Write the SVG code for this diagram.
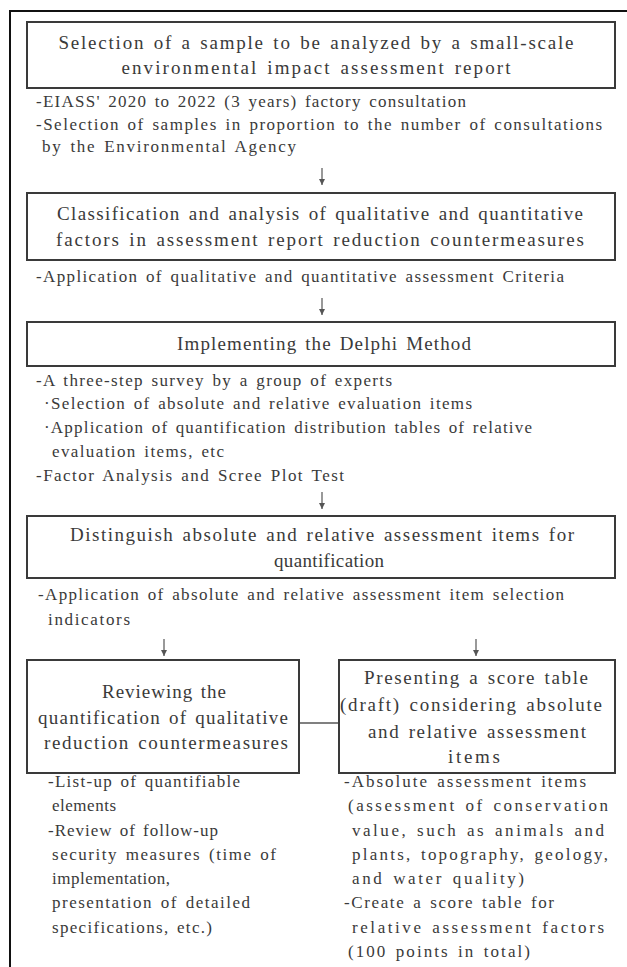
<svg xmlns="http://www.w3.org/2000/svg" width="627" height="967" viewBox="0 0 627 967">
  <style>
    .box { fill: #ffffff; stroke: #3a3a3a; stroke-width: 2; }
    .title { font-family: "Liberation Serif", "DejaVu Serif", serif; font-size: 19px; fill: #3a3a3a; text-anchor: middle; word-spacing: 2px; }
    .note { font-family: "Liberation Serif", "DejaVu Serif", serif; font-size: 17px; fill: #3a3a3a; word-spacing: 2px; }
    .arrow { stroke: #555555; stroke-width: 1.2; fill: none; marker-end: url(#head); }
    .link { stroke: #808080; stroke-width: 2; fill: none; }
  </style>
  <defs>
    <marker id="head" viewBox="0 0 8 8" refX="8" refY="4" markerWidth="6" markerHeight="6" markerUnits="userSpaceOnUse" orient="auto">
      <path d="M0,0 L8,4 L0,8 Z" fill="#555555"/>
    </marker>
  </defs>
  <rect width="627" height="967" fill="#ffffff"/>

  <!-- outer frame (left and top edges) -->
  <path d="M10,967 V11 H627" fill="none" stroke="#111111" stroke-width="2"/>

  <g id="connectors">
    <line class="arrow" x1="322" y1="168" x2="322" y2="185"/>
    <line class="arrow" x1="322" y1="298" x2="322" y2="315"/>
    <line class="arrow" x1="322" y1="492" x2="322" y2="509"/>
    <line class="arrow" x1="164" y1="639" x2="164" y2="656"/>
    <line class="arrow" x1="476" y1="639" x2="476" y2="656"/>
    <line class="link" x1="299" y1="723" x2="339" y2="723"/>
  </g>

  <g id="sample-selection">
    <rect class="box" x="27" y="22" width="588" height="66"/>
    <text class="title" x="316" y="49" textLength="515">Selection of a sample to be analyzed by a small-scale</text>
    <text class="title" x="316" y="74" textLength="389">environmental impact assessment report</text>
    <text class="note" x="36" y="107" textLength="430">-EIASS' 2020 to 2022 (3 years) factory consultation</text>
    <text class="note" x="36" y="130" textLength="566">-Selection of samples in proportion to the number of consultations</text>
    <text class="note" x="42" y="152" textLength="254">by the Environmental Agency</text>
  </g>

  <g id="classification">
    <rect class="box" x="27" y="193" width="588" height="67"/>
    <text class="title" x="320" y="220" textLength="526">Classification and analysis of qualitative and quantitative</text>
    <text class="title" x="320" y="246" textLength="528">factors in assessment report reduction countermeasures</text>
    <text class="note" x="36" y="282" textLength="528">-Application of qualitative and quantitative assessment Criteria</text>
  </g>

  <g id="delphi">
    <rect class="box" x="27" y="322" width="588" height="44"/>
    <text class="title" x="324" y="350" textLength="294">Implementing the Delphi Method</text>
    <text class="note" x="36" y="386" textLength="356">-A three-step survey by a group of experts</text>
    <text class="note" x="44" y="409" textLength="428">·Selection of absolute and relative evaluation items</text>
    <text class="note" x="44" y="433" textLength="488">·Application of quantification distribution tables of relative</text>
    <text class="note" x="52" y="457" textLength="172">evaluation items, etc</text>
    <text class="note" x="36" y="481" textLength="308">-Factor Analysis and Scree Plot Test</text>
  </g>

  <g id="distinguish">
    <rect class="box" x="27" y="516" width="588" height="62"/>
    <text class="title" x="322" y="541" textLength="504">Distinguish absolute and relative assessment items for</text>
    <text class="title" x="329" y="567" textLength="110">quantification</text>
    <text class="note" x="38" y="600" textLength="526">-Application of absolute and relative assessment item selection</text>
    <text class="note" x="48" y="625" textLength="82">indicators</text>
  </g>

  <g id="review-quantification">
    <rect class="box" x="27" y="660" width="272" height="113"/>
    <text class="title" x="164" y="698" textLength="124">Reviewing the</text>
    <text class="title" x="163" y="724" textLength="250">quantification of qualitative</text>
    <text class="title" x="166" y="749" textLength="244">reduction countermeasures</text>
    <text class="note" x="48" y="787" textLength="192">-List-up of quantifiable</text>
    <text class="note" x="52" y="811" textLength="64">elements</text>
    <text class="note" x="48" y="836" textLength="170">-Review of follow-up</text>
    <text class="note" x="52" y="860" textLength="224">security measures (time of</text>
    <text class="note" x="52" y="884" textLength="118">implementation,</text>
    <text class="note" x="52" y="908" textLength="198">presentation of detailed</text>
    <text class="note" x="52" y="933" textLength="160">specifications, etc.)</text>
  </g>

  <g id="score-table">
    <rect class="box" x="339" y="660" width="276" height="113"/>
    <text class="title" x="476" y="684" textLength="224">Presenting a score table</text>
    <text class="title" x="471" y="711" textLength="262">(draft) considering absolute</text>
    <text class="title" x="477" y="738" textLength="218">and relative assessment</text>
    <text class="title" x="474" y="763" textLength="52">items</text>
    <text class="note" x="344" y="787" textLength="242">-Absolute assessment items</text>
    <text class="note" x="348" y="811" textLength="260">(assessment of conservation</text>
    <text class="note" x="352" y="836" textLength="252">value, such as animals and</text>
    <text class="note" x="352" y="860" textLength="256">plants, topography, geology,</text>
    <text class="note" x="352" y="884" textLength="172">and water quality)</text>
    <text class="note" x="344" y="908" textLength="210">-Create a score table for</text>
    <text class="note" x="352" y="933" textLength="252">relative assessment factors</text>
    <text class="note" x="348" y="957" textLength="182">(100 points in total)</text>
  </g>
</svg>
